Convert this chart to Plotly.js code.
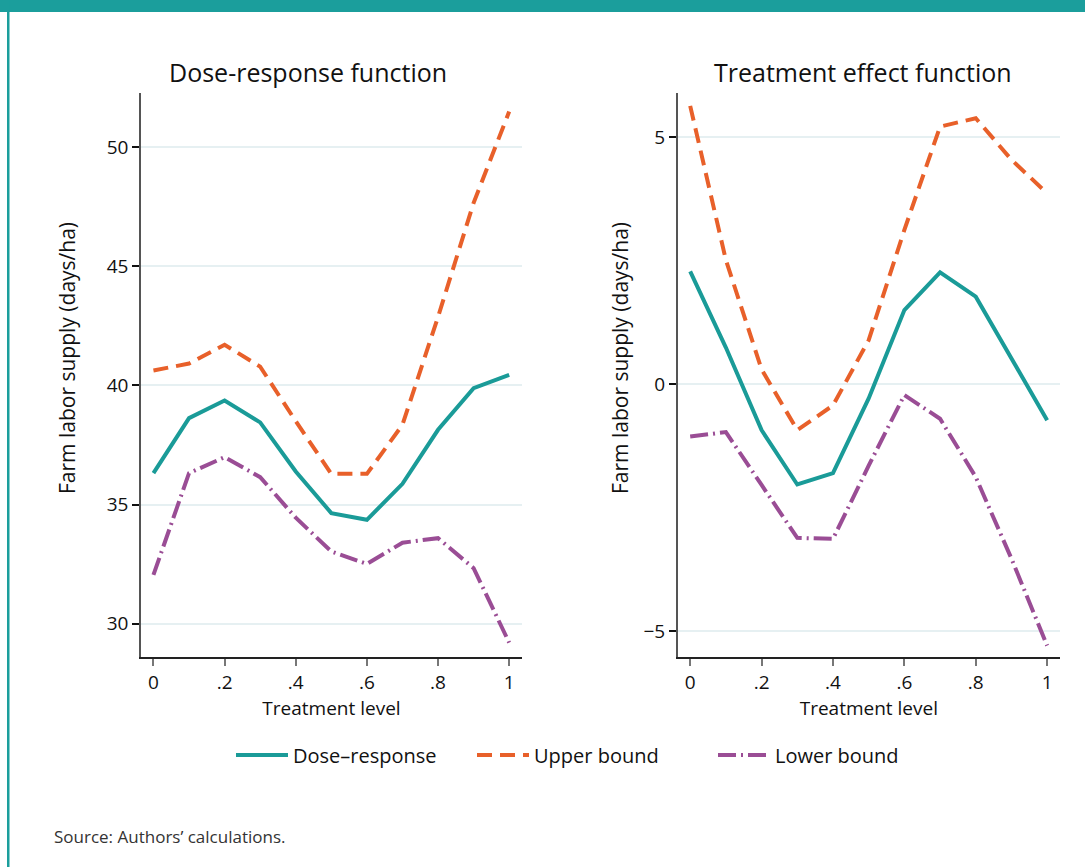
<!DOCTYPE html>
<html>
<head>
<meta charset="utf-8">
<script src="https://cdn.plot.ly/plotly-3.0.1.min.js"></script>
<style>
html,body{margin:0;padding:0;background:#fff;}
#chart{width:1085px;height:867px;}
</style>
</head>
<body>
<div id="chart"></div>
<script>
// ---- data ----
const treatmentLevels = [0, 0.1, 0.2, 0.3, 0.4, 0.5, 0.6, 0.7, 0.8, 0.9, 1.0];

// Dose-response function panel (days/ha)
const doseResponse = [36.32, 38.63, 39.37, 38.45, 36.39, 34.64, 34.36, 35.87, 38.14, 39.89, 40.45];
const doseUpper    = [40.63, 40.92, 41.71, 40.79, 38.50, 36.29, 36.29, 38.35, 42.88, 47.67, 51.50];
const doseLower    = [32.05, 36.32, 36.99, 36.15, 34.45, 33.03, 32.51, 33.40, 33.59, 32.33, 29.20];

// Treatment effect function panel
const effect       = [2.28, 0.74, -0.93, -2.03, -1.80, -0.29, 1.50, 2.26, 1.77, 0.53, -0.73];
const effectUpper  = [5.63, 2.51, 0.30, -0.93, -0.43, 0.89, 3.12, 5.21, 5.38, 4.54, 3.86];
const effectLower  = [-1.06, -0.97, -2.04, -3.11, -3.13, -1.65, -0.22, -0.70, -1.88, -3.53, -5.29];

const xTickVals  = [0, 0.2, 0.4, 0.6, 0.8, 1];
const xTickText  = ['0', '.2', '.4', '.6', '.8', '1'];
const leftYTicks = [30, 35, 40, 45, 50];
const rightYTicks = [-5, 0, 5];
const rightYText  = ['\u22125', '0', '5'];

const seriesNames = ['Dose\u2013response', 'Upper bound', 'Lower bound'];
const panelTitles = ['Dose-response function', 'Treatment effect function'];
const yTitle = 'Farm labor supply (days/ha)';
const xTitle = 'Treatment level';
const sourceNote = 'Source: Authors\u2019 calculations.';

// ---- styles ----
const FONT = 'Open Sans, Noto Sans, sans-serif';
const TEAL = '#1a9b98';
const ORANGE = '#e8602a';
const PURPLE = '#9a4d95';
const lineStyles = [
  {color: TEAL, width: 4, dash: 'solid'},
  {color: ORANGE, width: 4, dash: '15px,8px'},
  {color: PURPLE, width: 4, dash: '18px,5px,2px,5px'}
];

const leftSeries = [doseResponse, doseUpper, doseLower];
const rightSeries = [effect, effectUpper, effectLower];

const traces = [];
leftSeries.forEach((ys, i) => {
  traces.push({x: treatmentLevels, y: ys, type: 'scatter', mode: 'lines',
    name: seriesNames[i], line: lineStyles[i], xaxis: 'x', yaxis: 'y',
    legendgroup: 'g' + i, showlegend: true, hoverinfo: 'x+y'});
});
rightSeries.forEach((ys, i) => {
  traces.push({x: treatmentLevels, y: ys, type: 'scatter', mode: 'lines',
    name: seriesNames[i], line: lineStyles[i], xaxis: 'x2', yaxis: 'y2',
    legendgroup: 'g' + i, showlegend: false, hoverinfo: 'x+y'});
});

const W = 1085, H = 867;
const px = v => v / W;
const py = v => 1 - v / H;

const yDomain = [py(657), py(93)];
const commonX = {
  range: [-0.035, 1.036], tickvals: xTickVals, ticktext: xTickText,
  showline: true, linecolor: '#222', linewidth: 1.5,
  ticks: 'outside', ticklen: 7, tickwidth: 1.5, tickcolor: '#777',
  showgrid: false, zeroline: false,
  tickfont: {family: FONT, size: 19, color: '#111'},
  title: {text: xTitle, font: {family: FONT, size: 19, color: '#111'}, standoff: 6},
  fixedrange: true
};
const commonY = {
  showline: true, linecolor: '#555', linewidth: 1.5,
  ticks: 'outside', ticklen: 7, tickwidth: 1.5, tickcolor: '#111',
  showgrid: true, gridcolor: '#e6f0f2', gridwidth: 1.5, zeroline: false,
  tickfont: {family: FONT, size: 19, color: '#111'},
  fixedrange: true
};

const layout = {
  width: W, height: H,
  margin: {l: 0, r: 0, t: 0, b: 0},
  paper_bgcolor: '#fff', plot_bgcolor: '#fff',
  font: {family: FONT, color: '#111'},
  xaxis: Object.assign({}, commonX, {domain: [px(141), px(522)], anchor: 'y'}),
  yaxis: Object.assign({}, commonY, {domain: yDomain, anchor: 'x',
    range: [28.6, 52.28], tickvals: leftYTicks}),
  xaxis2: Object.assign({}, commonX, {domain: [px(677.7), px(1060)], anchor: 'y2'}),
  yaxis2: Object.assign({}, commonY, {domain: yDomain, anchor: 'x2',
    range: [-5.52, 5.89], tickvals: rightYTicks, ticktext: rightYText}),
  showlegend: true,
  legend: {orientation: 'h', x: px(231), xanchor: 'left', y: py(755), yanchor: 'middle',
    font: {family: FONT, size: 20, color: '#111'}, bgcolor: 'rgba(0,0,0,0)',
    itemwidth: 52, entrywidth: 174, entrywidthmode: 'pixels', traceorder: 'normal'},
  annotations: [
    {text: panelTitles[0], xref: 'paper', yref: 'paper', x: px(308), y: py(72),
      xanchor: 'center', yanchor: 'middle', showarrow: false,
      font: {family: FONT, size: 25, color: '#111'}},
    {text: panelTitles[1], xref: 'paper', yref: 'paper', x: px(862.5), y: py(72),
      xanchor: 'center', yanchor: 'middle', showarrow: false,
      font: {family: FONT, size: 25, color: '#111'}},
    {text: yTitle, xref: 'paper', yref: 'paper', x: px(67), y: py(358),
      xanchor: 'center', yanchor: 'middle', textangle: -90, showarrow: false,
      font: {family: FONT, size: 21, color: '#111'}},
    {text: yTitle, xref: 'paper', yref: 'paper', x: px(620), y: py(358),
      xanchor: 'center', yanchor: 'middle', textangle: -90, showarrow: false,
      font: {family: FONT, size: 21, color: '#111'}},
    {text: sourceNote, xref: 'paper', yref: 'paper', x: px(52), y: py(836),
      xanchor: 'left', yanchor: 'middle', showarrow: false,
      font: {family: FONT, size: 17, color: '#333'}}
  ],
  shapes: [
    {type: 'rect', xref: 'paper', yref: 'paper', x0: 0, x1: 1, y0: py(12), y1: 1,
      fillcolor: '#1b9e9c', line: {width: 0}, layer: 'below'},
    {type: 'rect', xref: 'paper', yref: 'paper', x0: px(7), x1: px(9.5), y0: 0, y1: 1,
      fillcolor: '#1b9e9c', line: {width: 0}, layer: 'below'}
  ]
};

Plotly.newPlot('chart', traces, layout, {displayModeBar: false, staticPlot: false});
</script>
</body>
</html>
